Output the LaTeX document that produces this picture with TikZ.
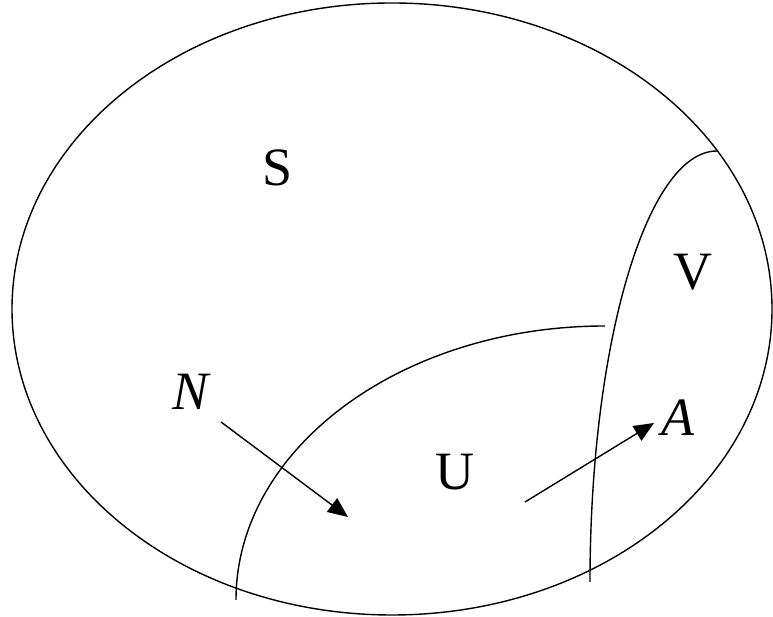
\documentclass[tikz,border=0pt]{standalone}
\usepackage{fontspec}
\setmainfont{Liberation Serif}
\usetikzlibrary{arrows.meta}
\begin{document}
\begin{tikzpicture}[x=1pt,y=1pt,
  curve/.style={line width=1.4pt},
  lab/.style={inner sep=0pt,font=\fontsize{54}{60}\selectfont},
  arr/.style={line width=1.4pt,-{Triangle[length=20pt,width=17pt]}}]
\useasboundingbox (0,0) rectangle (773,617);
\draw[curve] (392,308) ellipse [x radius=380, y radius=306];
\draw[curve] (236,17) arc [start angle=180, end angle=90, x radius=369, y radius=274];
\draw[curve] (590,35) arc [start angle=180, end angle=90, x radius=127, y radius=431];
\node[lab] (S) at (278,449) {S};
\node[lab] (V) at (693,345) {V};
\node[lab] (U) at (455,145) {U};
\node[lab] (N) at (191,225) {\itshape N};
\node[lab] (A) at (678,199) {\itshape A};
\coordinate (n1) at (221,195);
\coordinate (n2) at (348,100);
\coordinate (a1) at (525,115);
\coordinate (a2) at (654,194);
\draw[arr] (n1) -- (n2);
\draw[arr] (a1) -- (a2);
\end{tikzpicture}
\end{document}
